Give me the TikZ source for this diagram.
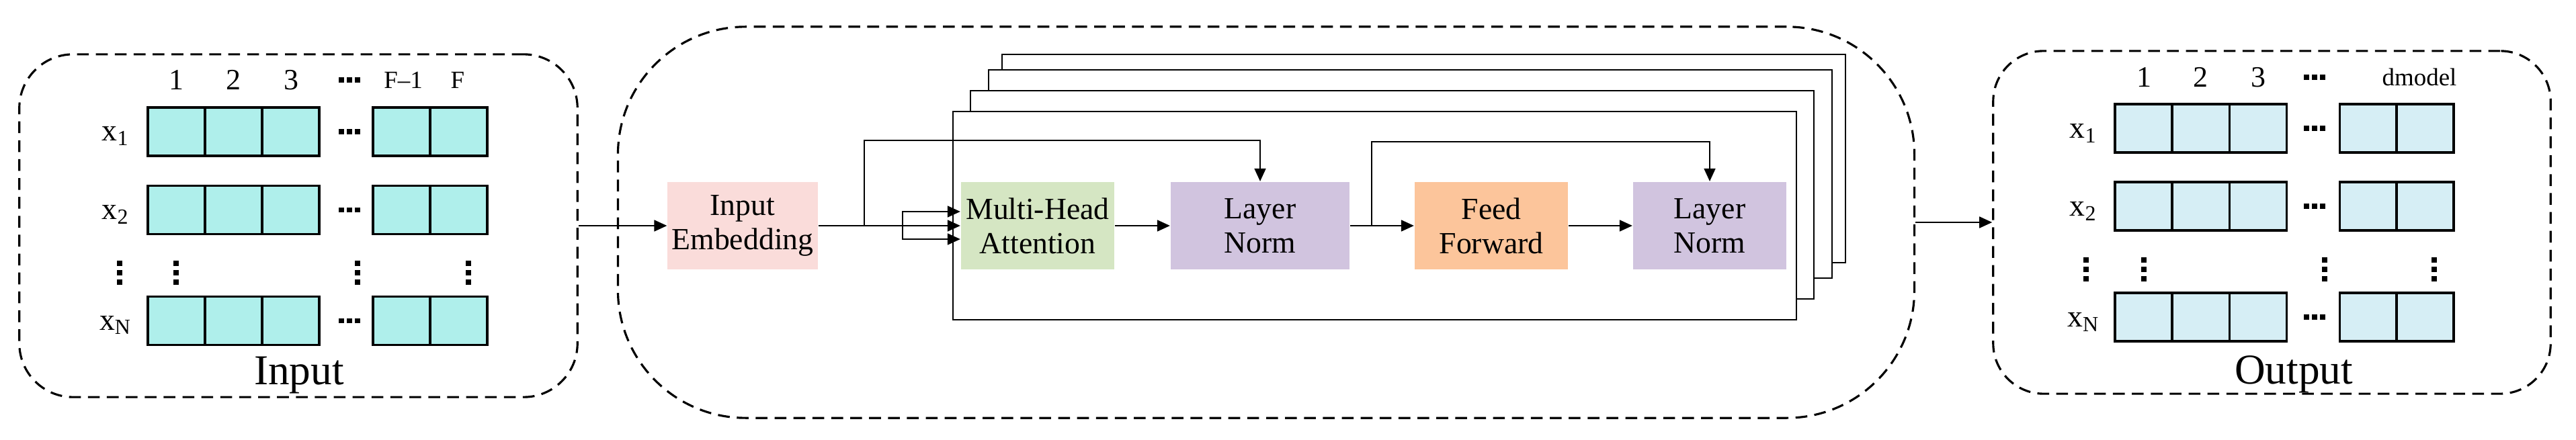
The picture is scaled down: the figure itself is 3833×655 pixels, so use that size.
\documentclass[tikz,border=0pt]{standalone}
\usepackage{fontspec}
\setmainfont{Liberation Serif}
\usetikzlibrary{arrows.meta,positioning}

\definecolor{incyan}{HTML}{AFEFEB}
\definecolor{outblue}{HTML}{D6EEF5}
\definecolor{embpink}{HTML}{FADCDA}
\definecolor{attgreen}{HTML}{D5E6C3}
\definecolor{normpurple}{HTML}{D1C4DF}
\definecolor{ffworange}{HTML}{FCC59B}

\tikzset{
    group/.style={draw,dashed,dash pattern=on 5pt off 3pt,line width=0.9pt},
    cellin/.style={draw,line width=0.9pt,fill=incyan,minimum width=0.85cm,minimum height=0.72cm,inner sep=0pt},
    cellout/.style={cellin,fill=outblue},
    block/.style={minimum height=1.3cm,align=center,inner sep=0pt,font=\fontsize{13}{14.5}\selectfont},
    layer/.style={draw,fill=white,line width=0.8pt},
    collab/.style={anchor=base,inner sep=0pt,font=\fontsize{12.5}{14}\selectfont},
    smalllab/.style={anchor=base,inner sep=0pt,font=\fontsize{10.5}{12}\selectfont},
    rowlab/.style={anchor=base,inner sep=0pt,font=\fontsize{13}{15}\selectfont},
    hdots/.style={inner sep=0pt},
    grouplab/.style={anchor=base,inner sep=0pt,font=\fontsize{18}{20}\selectfont}
}

\newcommand{\sqdot}{\rule{2.2pt}{2.2pt}}
\newcommand{\hdts}{\sqdot\hspace{1.3pt}\sqdot\hspace{1.3pt}\sqdot}
\newcommand{\vdts}{\rotatebox{90}{\sqdot\hspace{1.8pt}\sqdot\hspace{1.8pt}\sqdot}}

\begin{document}
\begin{tikzpicture}[x=0.01cm,y=-0.01cm,>={Triangle[length=5.4pt,width=4.8pt]},line width=0.6pt]
    \useasboundingbox (0,0) rectangle (3833,655);

    % INPUT
    \node[group,rounded corners=0.8cm,minimum width=8.3cm,minimum height=5.1cm] (inbox) at (444,336) {};
    \node[collab] (inc1) at (262,134) {1};
    \node[collab] (inc2) at (347,134) {2};
    \node[collab] (inc3) at (433,134) {3};
    \node[hdots] (incd) at (520,119) {\hdts};
    \node[smalllab] (inc4) at (600,132) {F\textendash 1};
    \node[smalllab] (inc5) at (681,132) {F};
    \foreach \r/\y/\lab in {1/196/1,2/312.5/2,3/477.5/N} {
        \node[rowlab] (inx\r) at (172,\y+14) {x\textsubscript{\lab}};
        \foreach \c/\x in {1/262.5,2/347.5,3/432.5,4/597.5,5/682.5}
            \node[cellin] (in\r\c) at (\x,\y) {};
        \node[hdots] (indots\r) at (520,\y) {\hdts};
    }
    \node[hdots] (invd1) at (178,406) {\vdts};
    \node[hdots] (invd2) at (262,406) {\vdts};
    \node[hdots] (invd3) at (532,406) {\vdts};
    \node[hdots] (invd4) at (697,406) {\vdts};
    \node[grouplab] (inlab) at (445,572) {Input};

    % ENCODER
    \node[group,rounded corners=1.9cm,minimum width=19.28cm,minimum height=5.82cm] (midbox) at (1884,331) {};
    \foreach \dx/\dy in {73/-85,53/-62,26/-31,0/0}
        \draw[layer] (1418+\dx,166+\dy) rectangle (2673+\dx,476+\dy);

    \node[block,fill=embpink,minimum width=2.23cm] (emb) at (1105,336) {Input\\Embedding};
    \node[block,fill=attgreen,minimum width=2.28cm] (mha) at (1544,336) {Multi-Head\\Attention};
    \node[block,fill=normpurple,minimum width=2.66cm] (ln1) at (1875,336) {Layer\\Norm};
    \node[block,fill=ffworange,minimum width=2.28cm] (ffw) at (2219,336) {Feed\\Forward};
    \node[block,fill=normpurple,minimum width=2.28cm] (ln2) at (2544,336) {Layer\\Norm};

    \coordinate (br1) at (1286,336);
    \coordinate (split) at (1343,336);
    \coordinate (br2) at (2041,336);

    \draw[->] (inbox.east) -- (emb.west);
    \draw (emb.east) -- (split);
    \draw[->] (split) -- (mha.west);
    \draw[->] (split) |- ([yshift=0.21cm]mha.west);
    \draw[->] (split) |- ([yshift=-0.2cm]mha.west);
    \draw[->] (br1) -- ++(0,-127) -| (ln1.north);
    \draw[->] (mha) -- (ln1);
    \draw[->] (ln1) -- (ffw);
    \draw[->] (br2) -- ++(0,-125) -| (ln2.north);
    \draw[->] (ffw) -- (ln2);

    % OUTPUT
    \node[group,rounded corners=0.75cm,minimum width=8.29cm,minimum height=5.1cm] (outbox) at (3380.5,331) {};
    \draw[->] (midbox.east) -- (outbox.west);
    \node[collab] (outc1) at (3190,130) {1};
    \node[collab] (outc2) at (3274,130) {2};
    \node[collab] (outc3) at (3360,130) {3};
    \node[hdots] (outcd) at (3444,115) {\hdts};
    \node[smalllab] (outc4) at (3600,128) {dmodel};
    \foreach \r/\y/\lab in {1/191/1,2/307/2,3/472/N} {
        \node[rowlab] (outx\r) at (3100,\y+15) {x\textsubscript{\lab}};
        \foreach \c/\x in {1/3189.5,2/3275,3/3360,4/3524,5/3608.5}
            \node[cellout] (out\r\c) at (\x,\y) {};
        \node[hdots] (outdots\r) at (3444,\y) {\hdts};
    }
    \node[hdots] (outvd1) at (3104,401) {\vdts};
    \node[hdots] (outvd2) at (3190,401) {\vdts};
    \node[hdots] (outvd3) at (3459,401) {\vdts};
    \node[hdots] (outvd4) at (3622,401) {\vdts};
    \node[grouplab] (outlab) at (3413,571) {Output};

\end{tikzpicture}
\end{document}
